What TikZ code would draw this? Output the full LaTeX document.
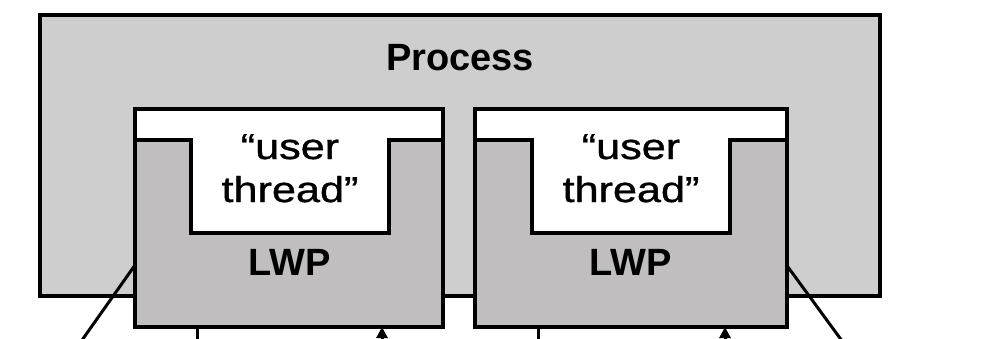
\documentclass[tikz,border=0pt]{standalone}
\usepackage{fontspec}
\setmainfont{Liberation Sans}
\newfontfamily\utfont[FakeBold=0.9]{Liberation Sans}
\usetikzlibrary{arrows.meta}
\definecolor{procgray}{RGB}{206,206,206}
\definecolor{lwpgray}{RGB}{192,190,191}
\tikzset{
  procbox/.style={draw=black, line width=3.6pt, fill=procgray, rectangle,
    anchor=north west, inner sep=0pt, outer sep=0pt},
  lwpbox/.style={draw=black, line width=3.6pt, fill=lwpgray, rectangle,
    anchor=north west, inner sep=0pt, outer sep=0pt,
    minimum height=218pt},
  ulslot/.style={fill=white},
  uledge/.style={draw=black, line width=3.4pt, line join=miter},
  title/.style={font=\bfseries\fontsize{38}{40}\selectfont, anchor=base, inner sep=0pt},
  uthread/.style={font=\utfont\fontsize{36}{40}\selectfont, anchor=base, inner sep=0pt},
  link/.style={draw=black, line width=3pt},
  uplink/.style={link, -{Triangle[width=11pt,length=11pt]}}
}
\begin{document}
\begin{tikzpicture}[x=1pt,y=-1pt]
  \useasboundingbox (0,0) rectangle (1008,338);
  \clip (0,0) rectangle (1008,338);

  % the process
  \node[procbox, minimum width=840pt, minimum height=281pt] (proc) at (40,15) {};
  \node[title] (proclabel) at (460,70) {Process};

  % free ends of the links leaving the picture at the bottom
  \coordinate (lout) at (68,360);
  \coordinate (rout) at (856,360);
  \coordinate (d1) at (197,360);
  \coordinate (u1) at (382,360);
  \coordinate (d2) at (538,360);
  \coordinate (u2) at (725,360);

  % two lightweight processes
  \node[lwpbox, minimum width=308pt] (lwp1) at (135,109) {};
  \node[lwpbox, minimum width=312pt] (lwp2) at (475,109) {};

  % slanted links to the LWP sides (drawn over the process frame)
  \draw[link] (lwp1.197) -- (lout);
  \draw[link] (lwp2.343) -- (rout);

  % user-thread slot inside each LWP
  \fill[ulslot] (135,109) -- (443,109) -- (443,140) -- (389,140) -- (389,233)
    -- (191,233) -- (191,140) -- (135,140) -- cycle;
  \draw[uledge] (135,140) -- (191,140) -- (191,233) -- (389,233) -- (389,140) -- (443,140);
  \fill[ulslot] (475,109) -- (787,109) -- (787,140) -- (730,140) -- (730,233)
    -- (532,233) -- (532,140) -- (475,140) -- cycle;
  \draw[uledge] (475,140) -- (532,140) -- (532,233) -- (730,233) -- (730,140) -- (787,140);
  % redraw LWP frames over the slots
  \draw[line width=3.6pt] (lwp1.north west) rectangle (lwp1.south east);
  \draw[line width=3.6pt] (lwp2.north west) rectangle (lwp2.south east);

  % labels
  \node[uthread] (ut1a) at (290,159) {\scalebox{1.2}[1]{“user}};
  \node[uthread] (ut1b) at (290,202) {\scalebox{1.2}[1]{thread”}};
  \node[title] (lwp1label) at (290,275) {LWP};
  \node[uthread] (ut2a) at (631,159) {\scalebox{1.2}[1]{“user}};
  \node[uthread] (ut2b) at (631,202) {\scalebox{1.2}[1]{thread”}};
  \node[title] (lwp2label) at (631,275) {LWP};

  % links below the LWPs
  \draw[link] (d1) -- (d1 |- lwp1.south);
  \draw[uplink] (u1) -- (u1 |- lwp1.south);
  \draw[link] (d2) -- (d2 |- lwp2.south);
  \draw[uplink] (u2) -- (u2 |- lwp2.south);
\end{tikzpicture}
\end{document}
